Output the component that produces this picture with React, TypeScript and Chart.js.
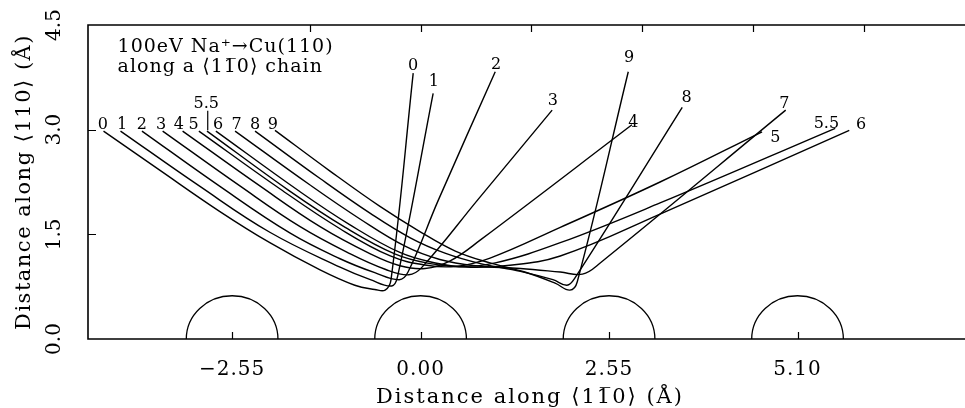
import React, { useEffect, useRef } from 'react';
import { Chart, registerables } from 'chart.js';

Chart.register(...registerables);

// ---------- axis ticks ----------
const xTickValues = [-2.55, 0, 2.55, 5.1];
const xTickLabels = ['\u22122.55', '0.00', '2.55', '5.10'];
const yTickValues = [0, 1.5, 3.0, 4.5];
const yTickLabels = ['0.0', '1.5', '3.0', '4.5'];
const topTickValues = [-1.5, 0, 1.5, 3.0, 4.5, 6.0];
const leftInnerTicks = [1.5, 3.0];

// ---------- Cu atoms (semicircles) ----------
const atomCenters = [-2.55, 0, 2.55, 5.1];
const atomRadius = 0.62;

// ---------- trajectories [x, y] in Å ----------
const traj0 = [[-4.29, 2.98], [-3.53, 2.42], [-2.72, 1.83], [-2.04, 1.38], [-1.36, 0.99], [-0.89, 0.77], [-0.62, 0.71], [-0.48, 0.70], [-0.40, 0.85], [-0.10, 3.81]];
const traj1 = [[-4.06, 2.98], [-2.99, 2.19], [-2.04, 1.53], [-1.09, 1.03], [-0.68, 0.85], [-0.39, 0.76], [-0.31, 0.90], [0.17, 3.52]];
const traj2 = [[-3.77, 2.98], [-2.72, 2.19], [-1.77, 1.52], [-1.09, 1.15], [-0.62, 0.95], [-0.29, 0.85], [-0.17, 0.96], [0.24, 1.99], [1.01, 3.83]];
const traj3 = [[-3.49, 2.98], [-2.44, 2.19], [-1.63, 1.61], [-0.95, 1.22], [-0.48, 1.00], [-0.16, 0.92], [0.02, 1.03], [0.77, 1.99], [1.78, 3.28]];
const traj4 = [[-3.22, 2.98], [-2.17, 2.19], [-1.36, 1.61], [-0.68, 1.22], [-0.28, 1.05], [0.06, 1.01], [0.40, 1.12], [0.81, 1.42], [2.86, 3.07]];
const traj5 = [[-3.00, 2.98], [-1.90, 2.15], [-1.09, 1.58], [-0.41, 1.19], [0.06, 1.06], [0.47, 1.04], [0.94, 1.16], [1.89, 1.60], [3.24, 2.25], [4.62, 2.97]];
const traj55 = [[-2.89, 2.98], [-1.77, 2.12], [-1.02, 1.60], [-0.35, 1.22], [0.13, 1.08], [0.53, 1.04], [1.01, 1.09], [1.89, 1.38], [3.24, 1.95], [5.61, 3.02]];
const traj6 = [[-2.77, 2.98], [-1.63, 2.11], [-0.96, 1.64], [-0.28, 1.24], [0.20, 1.09], [0.60, 1.03], [1.14, 1.05], [1.89, 1.19], [3.24, 1.79], [5.80, 2.99]];
const traj7 = [[-2.51, 2.98], [-1.50, 2.21], [-0.82, 1.72], [-0.21, 1.33], [0.26, 1.14], [0.74, 1.05], [1.35, 1.01], [1.89, 0.96], [2.19, 0.93], [2.43, 1.09], [4.94, 3.28]];
const traj8 = [[-2.24, 2.98], [-1.36, 2.30], [-0.68, 1.80], [-0.14, 1.45], [0.33, 1.23], [0.81, 1.08], [1.35, 0.97], [1.79, 0.85], [1.98, 0.77], [2.08, 0.86], [3.54, 3.32]];
const traj9 = [[-1.97, 2.99], [-1.23, 2.41], [-0.55, 1.90], [-0.01, 1.54], [0.47, 1.26], [0.94, 1.09], [1.41, 0.96], [1.82, 0.80], [2.02, 0.70], [2.12, 0.82], [2.81, 3.83]];

const trajectories = [traj0, traj1, traj2, traj3, traj4, traj5, traj55, traj6, traj7, traj8, traj9];

// leader line from the "5.5" start label down to its trajectory
const leader55 = [[-2.88, 3.27], [-2.88, 2.99]];

// ---------- trajectory labels ----------
const labelTexts = ['0', '1', '2', '3', '4', '5', '6', '7', '8', '9', '5.5',
  '0', '1', '2', '3', '4', '9', '8', '7', '5', '5.5', '6'];
const labelX = [-4.30, -4.04, -3.77, -3.51, -3.27, -3.07, -2.74, -2.49, -2.24, -2.00, -2.90,
  -0.10, 0.18, 1.02, 1.79, 2.88, 2.82, 3.60, 4.92, 4.80, 5.49, 5.96];
const labelY = [3.07, 3.07, 3.07, 3.07, 3.07, 3.07, 3.07, 3.07, 3.07, 3.07, 3.37,
  3.91, 3.68, 3.93, 3.41, 3.10, 4.03, 3.45, 3.37, 2.88, 3.08, 3.07];

// ---------- text ----------
const titleLine1 = '100eV Na\u207A\u2192Cu(110)';
const titleLine2 = 'along a \u27E811\u03050\u27E9 chain';
const xAxisTitle = 'Distance along \u27E811\u03050\u27E9 (\u00C5)';
const yAxisTitle = 'Distance along \u27E8110\u27E9 (\u00C5)';

const SERIF = '"DejaVu Serif", serif';

const decorPlugin = {
  id: 'decor',
  afterDatasetsDraw(chart: any) {
    const { ctx, chartArea: a } = chart;
    const xs = chart.scales.x;
    const ys = chart.scales.y;
    ctx.save();
    ctx.strokeStyle = '#000';
    ctx.fillStyle = '#000';

    // frame
    ctx.lineWidth = 1.6;
    ctx.beginPath();
    ctx.moveTo(a.right + 5, a.top);
    ctx.lineTo(a.left, a.top);
    ctx.lineTo(a.left, a.bottom);
    ctx.lineTo(a.right + 5, a.bottom);
    ctx.stroke();

    // inner tick marks
    ctx.lineWidth = 1.2;
    ctx.beginPath();
    for (const v of xTickValues) {
      const px = Math.round(xs.getPixelForValue(v)) + 0.5;
      ctx.moveTo(px, a.bottom);
      ctx.lineTo(px, a.bottom - 7);
    }
    for (const v of topTickValues) {
      const px = Math.round(xs.getPixelForValue(v)) + 0.5;
      ctx.moveTo(px, a.top);
      ctx.lineTo(px, a.top + 7);
    }
    for (const v of leftInnerTicks) {
      const py = Math.round(ys.getPixelForValue(v)) + 0.5;
      ctx.moveTo(a.left, py);
      ctx.lineTo(a.left + 8, py);
    }
    ctx.stroke();

    // atoms
    ctx.lineWidth = 1.3;
    for (const c of atomCenters) {
      const cx = xs.getPixelForValue(c);
      const cy = ys.getPixelForValue(0);
      const rx = xs.getPixelForValue(c + atomRadius) - cx;
      const ry = cy - ys.getPixelForValue(atomRadius);
      ctx.beginPath();
      ctx.ellipse(cx, cy, rx, ry, 0, Math.PI, 2 * Math.PI);
      ctx.stroke();
    }

    // x tick labels
    ctx.textAlign = 'center';
    ctx.textBaseline = 'middle';
    ctx.font = `20px ${SERIF}`;
    (ctx as any).letterSpacing = '1px';
    xTickValues.forEach((v, i) => {
      ctx.fillText(xTickLabels[i], xs.getPixelForValue(v), a.bottom + 31);
    });

    // y tick labels (rotated)
    (ctx as any).letterSpacing = '0px';
    yTickValues.forEach((v, i) => {
      ctx.save();
      ctx.translate(a.left - 33, ys.getPixelForValue(v));
      ctx.rotate(-Math.PI / 2);
      ctx.fillText(yTickLabels[i], 0, 0);
      ctx.restore();
    });

    // axis titles
    ctx.font = `21px ${SERIF}`;
    (ctx as any).letterSpacing = '2px';
    ctx.fillText(xAxisTitle, xs.getPixelForValue(1.48), a.bottom + 59);
    (ctx as any).letterSpacing = '1.5px';
    ctx.save();
    ctx.translate(a.left - 63, (a.top + a.bottom) / 2);
    ctx.rotate(-Math.PI / 2);
    ctx.fillText(yAxisTitle, 0, 0);
    ctx.restore();

    // in-plot title
    ctx.font = `19px ${SERIF}`;
    (ctx as any).letterSpacing = '1px';
    ctx.textAlign = 'left';
    ctx.fillText(titleLine1, xs.getPixelForValue(-4.1), ys.getPixelForValue(4.18));
    ctx.fillText(titleLine2, xs.getPixelForValue(-4.1), ys.getPixelForValue(3.9));

    // trajectory labels
    ctx.font = `16px ${SERIF}`;
    (ctx as any).letterSpacing = '0px';
    ctx.textAlign = 'center';
    labelTexts.forEach((t, i) => {
      ctx.fillText(t, xs.getPixelForValue(labelX[i]), ys.getPixelForValue(labelY[i]));
    });

    ctx.restore();
  },
};

export default function App() {
  const canvasRef = useRef<HTMLCanvasElement | null>(null);

  useEffect(() => {
    if (!canvasRef.current) return;
    const toPts = (arr: number[][]) => arr.map(([x, y]) => ({ x, y }));
    const datasets: any[] = trajectories.map((t) => ({
      data: toPts(t),
      showLine: true,
      borderColor: '#000',
      borderWidth: 1.4,
      pointRadius: 0,
      tension: 0.4,
      fill: false,
    }));
    datasets.push({
      data: toPts(leader55),
      showLine: true,
      borderColor: '#000',
      borderWidth: 1.2,
      pointRadius: 0,
      fill: false,
    });

    const chart = new Chart(canvasRef.current, {
      type: 'scatter',
      data: { datasets },
      options: {
        animation: false,
        responsive: false,
        devicePixelRatio: 1,
        layout: { padding: { left: 88, top: 25, right: 0, bottom: 69 } },
        plugins: { legend: { display: false }, tooltip: { enabled: false } },
        scales: {
          x: { type: 'linear', display: false, min: -4.5, max: 7.65 },
          y: { type: 'linear', display: false, min: 0, max: 4.5 },
        },
      },
      plugins: [decorPlugin],
    });
    return () => chart.destroy();
  }, []);

  return (
    <div style={{ position: 'fixed', left: 0, top: 0, width: 965, height: 408, overflow: 'hidden', background: '#fff' }}>
      <canvas ref={canvasRef} width={986} height={408} style={{ width: 986, height: 408, display: 'block' }} />
    </div>
  );
}
